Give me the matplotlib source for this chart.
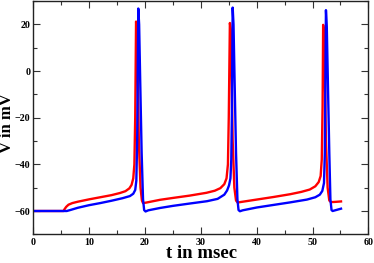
import matplotlib
matplotlib.use("Agg")
import matplotlib.pyplot as plt
from matplotlib.ticker import MultipleLocator

# Red trace (time in msec, voltage in mV)
red_t = [0, 5.4, 5.6, 5.9, 6.3, 7, 8, 10, 12, 14, 15.5, 16.5, 17.2, 17.6, 17.9, 18.1, 18.25, 18.4,
         18.55, 18.7, 18.9, 19.2, 19.45, 19.65, 20.2, 22.7, 25, 28, 31, 32.5, 33.5, 34.2, 34.6, 34.85,
         35.0, 35.2, 35.35, 35.5, 35.7, 36.0, 36.3, 36.6, 37.0, 40, 43, 46, 48, 49.5, 50.5, 51.1,
         51.45, 51.65, 51.8, 51.9, 52.05, 52.2, 52.4, 52.7, 53.0, 53.3, 54, 55.1]
red_v = [-60, -60, -59.2, -58.2, -57.3, -56.6, -56.0, -55.0, -54.1, -53.2, -52.3, -51.5, -50.3, -48.8,
         -46, -40, -20, 21.2, 18, 0, -30, -50, -55.5, -56.6, -56.4, -55.2, -54.4, -53.4, -52.2, -51.3,
         -50.2, -48.5, -46, -40, -20, 20.6, 18, 0, -30, -50, -55.5, -56.4, -56.2, -55.1, -54.0, -52.8,
         -51.8, -50.8, -49.4, -47.6, -45, -38, -15, 19.8, 17, 0, -30, -50, -55.5, -56.2, -56.1, -55.9]

# Blue trace
blue_t = [0, 6.0, 6.6, 8, 10, 12, 14, 16, 17.3, 17.9, 18.25, 18.45, 18.6, 18.7, 18.8, 18.95, 19.15,
          19.4, 19.65, 19.85, 20.1, 20.6, 22.7, 25, 28, 31.1, 33, 34.2, 34.7, 35.05, 35.3, 35.45,
          35.55, 35.7, 35.85, 36.05, 36.3, 36.55, 36.75, 37.0, 37.5, 40, 43, 46, 49, 50.5, 51.3,
          51.75, 52.05, 52.2, 52.3, 52.4, 52.55, 52.75, 53.0, 53.2, 53.4, 53.6, 54.2, 55.1]
blue_v = [-60, -60, -59.6, -58.6, -57.5, -56.6, -55.6, -54.5, -53.6, -52.6, -51, -47, -30, 0, 26.8,
          20, -5, -35, -55, -59.6, -60.2, -59.7, -58.7, -57.8, -56.8, -55.8, -54.8, -53.0, -51.2,
          -49, -46, -38, -20, 27.2, 20, -5, -35, -55, -59.6, -60.1, -59.7, -58.5, -57.4, -56.3,
          -55.1, -54.1, -53, -51.4, -48, -35, -5, 26.1, 19, -5, -35, -55, -59.6, -60, -59.6, -59]

x_ticks = [0, 10, 20, 30, 40, 50, 60]
y_ticks = [-60, -40, -20, 0, 20]

plt.rcParams['font.family'] = ['Liberation Serif', 'DejaVu Serif']

fig = plt.figure(figsize=(3.74, 2.63), dpi=100)
ax = fig.add_axes([0.089, 0.109, 0.896, 0.887])

ax.plot(red_t, red_v, color='#ff0000', lw=1.7, solid_joinstyle='round')
ax.plot(blue_t, blue_v, color='#0000ff', lw=1.7, solid_joinstyle='round')

ax.set_xlim(0, 60)
ax.set_ylim(-70, 30)
ax.set_xticks(x_ticks)
ax.set_yticks(y_ticks)
ax.xaxis.set_minor_locator(MultipleLocator(5))
ax.yaxis.set_minor_locator(MultipleLocator(10))
ax.tick_params(which='both', direction='in', top=True, right=True, color='#333333', width=0.8)
ax.tick_params(which='major', length=5)
ax.tick_params(which='minor', length=3)
ax.tick_params(axis='y', pad=2)
ax.tick_params(axis='x', pad=2.5)
for lab in ax.get_xticklabels() + ax.get_yticklabels():
    lab.set_fontsize(7.2)
    lab.set_fontweight('bold')
for s in ax.spines.values():
    s.set_linewidth(1.0)
    s.set_color('#222222')

fig.text(201 / 374, 1 - 254 / 263, 't in msec', fontsize=13.5, fontweight='bold',
         ha='center', va='center')
fig.text(7.5 / 374, 1 - 123.5 / 263, 'V in mV', fontsize=12, fontweight='bold',
         ha='center', va='center', rotation=90)

fig.savefig('out.png', dpi=100)
